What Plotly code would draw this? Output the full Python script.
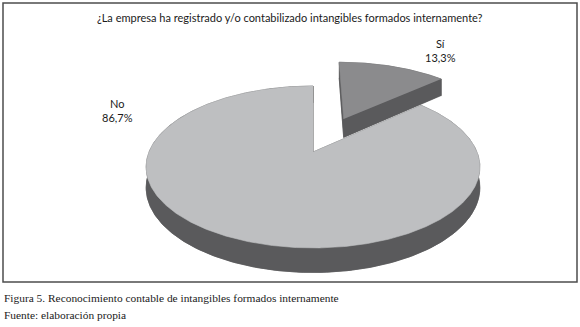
import numpy as np
import plotly.graph_objects as go

# ---- data ----
categories = ["Sí", "No"]
values = [13.3, 86.7]
value_labels = ["13,3%", "86,7%"]
title_text = "¿La empresa ha registrado y/o contabilizado intangibles formados internamente?"
caption_1 = "Figura 5. Reconocimiento contable de intangibles formados internamente"
caption_2 = "Fuente: elaboración propia"

# ---- style / layout parameters ----
top_colors = ["#8B8B8D", "#BEBFC1"]
side_color = "#5A5A5C"
explode = [0.5, 0.0]
CX, CY = 313.0, 152.0      # projected centre of the pie
A, B, K = 164.0, 78.2, 0.185  # horizontal / vertical radius, perspective
H = 20.0                   # thickness
label_pos = [(440, 50), (117, 110)]

def proj(X, Y, Z):
    d = 1.0 + K * Y
    return CX + A * X / d, CY - (B * Y + H * Z) / d

fig = go.Figure()

start = 90.0
total = sum(values)
slices = []
for cat, v, ex in zip(categories, values, explode):
    sweep = v / total * 360.0
    a0, a1 = start, start - sweep
    mid = np.radians((a0 + a1) / 2)
    ox, oy = ex * np.cos(mid), ex * np.sin(mid)
    th = np.radians(np.linspace(a0, a1, max(int(sweep), 8) * 2))
    slices.append((cat, ox, oy, th))
    start = a1

def add_poly(xs, ys, color):
    fig.add_trace(go.Scatter(x=list(xs), y=list(ys), mode="lines", fill="toself",
                             fillcolor=color, line=dict(color=color, width=0.6),
                             hoverinfo="skip", showlegend=False))

for i, (cat, ox, oy, th) in enumerate(slices):
    X = ox + np.cos(th)
    Y = oy + np.sin(th)
    # bottom face
    bx, by = proj(np.r_[ox, X], np.r_[oy, Y], -1)
    add_poly(bx, by, side_color)
    # outer wall
    tx, ty = proj(X, Y, 0)
    bx2, by2 = proj(X, Y, -1)
    add_poly(np.r_[tx, bx2[::-1]], np.r_[ty, by2[::-1]], side_color)
    # radial faces
    for j in (0, -1):
        px = [ox, X[j], X[j], ox]
        py = [oy, Y[j], Y[j], oy]
        pz = [0, 0, -1, -1]
        qx, qy = proj(np.array(px), np.array(py), np.array(pz))
        add_poly(qx, qy, side_color)
    # top face
    fx, fy = proj(np.r_[ox, X], np.r_[oy, Y], 0)
    add_poly(fx, fy, top_colors[i])

annotations = [
    dict(x=290, y=17, text=title_text, showarrow=False, xref="x", yref="y",
         font=dict(family="Lato", size=11, color="#1a1a1a")),
    dict(x=2, y=298, text=caption_1, showarrow=False, xref="x", yref="y", xanchor="left",
         font=dict(family="Liberation Serif", size=11.4, color="#1a1a1a")),
    dict(x=2, y=315, text=caption_2, showarrow=False, xref="x", yref="y", xanchor="left",
         font=dict(family="Liberation Serif", size=11.4, color="#1a1a1a")),
]
for cat, val, (lx, ly) in zip(categories, value_labels, label_pos):
    annotations.append(dict(x=lx, y=ly, text=f"{cat}<br>{val}", showarrow=False,
                            xref="x", yref="y", align="center",
                            font=dict(family="Lato", size=11, color="#1a1a1a")))

fig.update_layout(
    width=580, height=327, margin=dict(l=0, r=0, t=0, b=0),
    paper_bgcolor="white", plot_bgcolor="white",
    xaxis=dict(range=[0, 580], visible=False, fixedrange=True),
    yaxis=dict(range=[327, 0], visible=False, fixedrange=True),
    shapes=[dict(type="rect", xref="x", yref="y", x0=3, y0=3, x1=577, y1=282,
                 line=dict(color="#4D4D4D", width=1.5))],
    annotations=annotations,
)
fig.write_html("out.html", config={"displayModeBar": False},
               post_script="document.body.style.margin='0';document.body.style.padding='0';")
